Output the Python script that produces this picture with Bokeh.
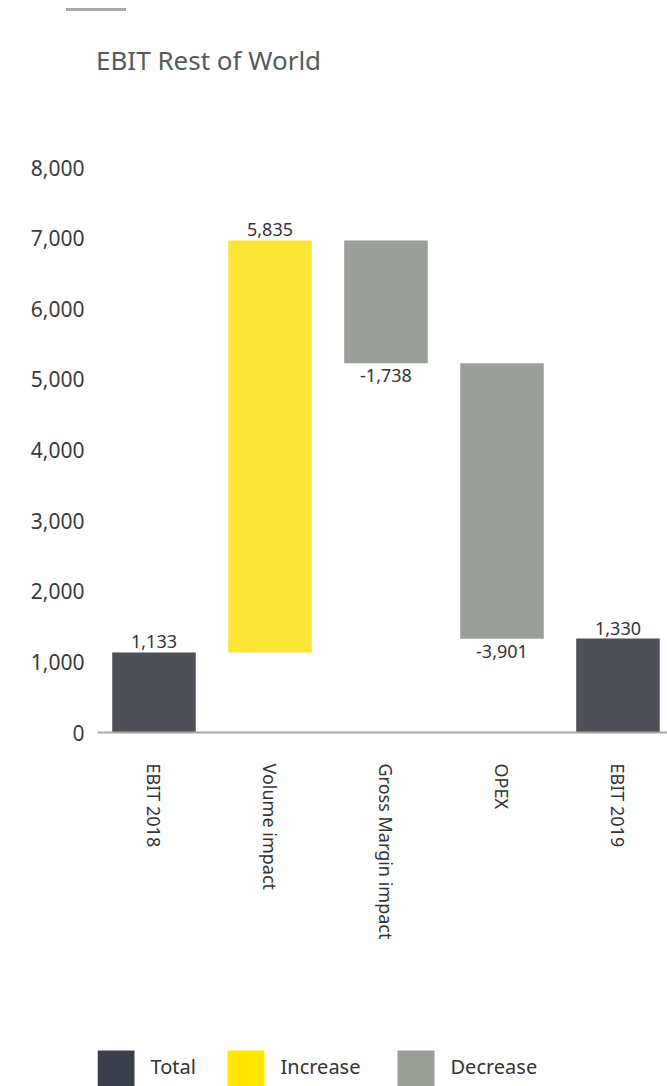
from bokeh.plotting import figure
from bokeh.layouts import column
from bokeh.models import Range1d, FixedTicker, NumeralTickFormatter, ColumnDataSource, Div
from bokeh.core.properties import value
from bokeh.embed import file_html
from bokeh.resources import INLINE

title_text = "EBIT Rest of World"
categories = ["EBIT 2018", "Volume impact", "Gross Margin impact", "OPEX", "EBIT 2019"]
values = [1133, 5835, -1738, -3901, 1330]
kinds = ["Total", "Increase", "Decrease", "Decrease", "Total"]
legend_labels = ["Total", "Increase", "Decrease"]
y_ticks = [0, 1000, 2000, 3000, 4000, 5000, 6000, 7000, 8000]

bar_colors = {"Total": "#4f4f58", "Increase": "#f9e637", "Decrease": "#9b9f99"}
legend_colors = {"Total": "#3a3f4b", "Increase": "#ffe600", "Decrease": "#999e97"}
FONT = "Noto Sans"
W = 667
LB = 97  # left border shared by the plots (frames are aligned in the column)

# ---------- header (decorative line + title) ----------
header = Div(width=W, height=100, margin=(0, 0, 0, 0), text=(
    '<div style="position:relative;width:667px;height:100px;">'
    '<div style="position:absolute;left:66px;top:8px;width:60px;height:3px;background:#a8a8a8;"></div>'
    f'<div style="position:absolute;left:96px;top:43px;font-family:\'{FONT}\';font-size:26px;'
    f'line-height:34px;color:#555a61;white-space:nowrap;">{title_text}</div>'
    '</div>'))

# ---------- waterfall geometry from data ----------
bottoms, tops = [], []
running = 0
for v, k in zip(values, kinds):
    if k == "Total":
        b, t = 0, v
        running = v
    else:
        b, t = running, running + v
        running = running + v
    bottoms.append(min(b, t))
    tops.append(max(b, t))
xs = list(range(len(categories)))

p = figure(width=W, height=940, output_backend="svg", toolbar_location=None,
           x_range=Range1d(-0.487, 4.427), y_range=Range1d(0, 8000),
           min_border_left=LB, min_border_right=0, min_border_top=67, min_border_bottom=308)
p.outline_line_color = None
p.xgrid.grid_line_color = None
p.ygrid.grid_line_color = None

for kind in legend_labels:
    idx = [i for i, k in enumerate(kinds) if k == kind]
    src = ColumnDataSource(dict(x=[xs[i] for i in idx], top=[tops[i] for i in idx],
                                bottom=[bottoms[i] for i in idx]))
    p.vbar(x="x", top="top", bottom="bottom", width=0.72, source=src,
           fill_color=bar_colors[kind], line_color=None)

lab_up_x, lab_up_y, lab_up_t = [], [], []
lab_dn_x, lab_dn_y, lab_dn_t = [], [], []
for i, v in enumerate(values):
    txt = f"{v:,}"
    if v >= 0:
        lab_up_x.append(xs[i]); lab_up_y.append(tops[i]); lab_up_t.append(txt)
    else:
        lab_dn_x.append(xs[i]); lab_dn_y.append(bottoms[i]); lab_dn_t.append(txt)
p.text(x=lab_up_x, y=lab_up_y, text=lab_up_t, text_align="center", text_baseline="bottom",
       y_offset=-4, text_font=value(FONT), text_font_size="18px", text_color="#333333")
p.text(x=lab_dn_x, y=lab_dn_y, text=lab_dn_t, text_align="center", text_baseline="top",
       y_offset=6, text_font=value(FONT), text_font_size="18px", text_color="#333333")

p.xaxis.ticker = FixedTicker(ticks=xs)
p.xaxis.major_label_overrides = {i: c for i, c in zip(xs, categories)}
p.xaxis.major_label_orientation = -1.5707963
p.xaxis.major_label_standoff = 25
p.xaxis.major_tick_line_color = None
p.xaxis.minor_tick_line_color = None
p.xaxis.axis_line_color = "#a6a6a6"
p.xaxis.axis_line_width = 2
p.xaxis.major_label_text_font = FONT
p.xaxis.major_label_text_font_size = "18px"
p.xaxis.major_label_text_color = "#333333"

p.yaxis.ticker = FixedTicker(ticks=y_ticks)
p.yaxis.formatter = NumeralTickFormatter(format="0,0")
p.yaxis.axis_line_color = None
p.yaxis.major_tick_line_color = None
p.yaxis.minor_tick_line_color = None
p.yaxis.major_label_standoff = 7
p.yaxis.major_label_text_font = FONT
p.yaxis.major_label_text_font_size = "21px"
p.yaxis.major_label_text_color = "#3a3a3a"

# ---------- legend strip (pixel coordinates: frame spans 97..667) ----------
lg = figure(width=W, height=46, output_backend="svg", toolbar_location=None,
            x_range=Range1d(LB, W), y_range=Range1d(46, 0),
            min_border_left=LB, min_border_right=0, min_border_top=0, min_border_bottom=0)
lg.axis.visible = False
lg.grid.visible = False
lg.outline_line_color = None
sw_left = [97, 227, 397]
lg.quad(left=sw_left, right=[x + 37 for x in sw_left], top=[10] * 3, bottom=[48] * 3,
        fill_color=[legend_colors[k] for k in legend_labels], line_color=None)
lg.text(x=[x + 53 for x in sw_left], y=[26] * 3, text=legend_labels, text_font=value(FONT),
        text_font_size="20px", text_color="#333333", text_baseline="middle", text_align="left")

layout = column(header, p, lg, spacing=0)
open("out.html", "w").write(file_html(layout, INLINE))
